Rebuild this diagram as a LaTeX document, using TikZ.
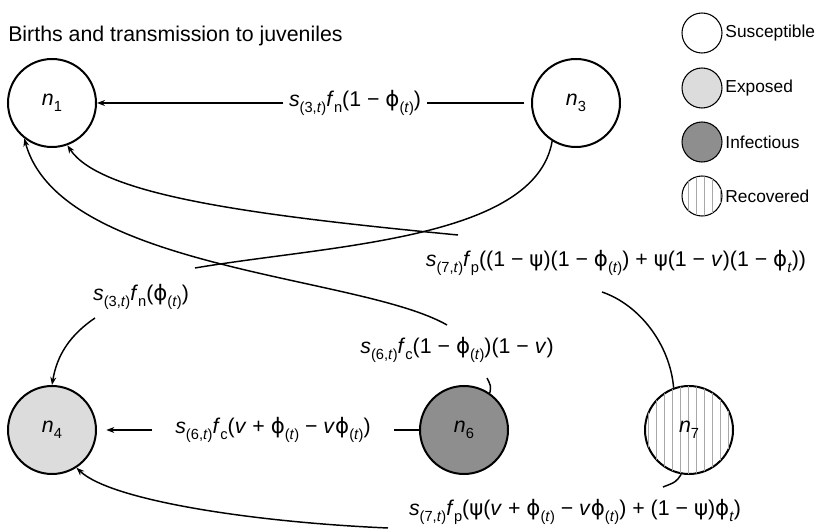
\documentclass[tikz,border=0pt]{standalone}
\usepackage{fontspec}
\setmainfont{Liberation Sans}
\newfontfamily\grk{DejaVu Sans}
\usetikzlibrary{arrows.meta, patterns.meta}
\definecolor{exposedgray}{HTML}{DCDCDC}
\definecolor{infectgray}{HTML}{8E8E8E}
\definecolor{hatchgray}{HTML}{A8A8A8}
\newcommand\lo[1]{\raisebox{-0.55ex}{\fontsize{11}{12}\selectfont #1}}
\newcommand\ph{{\grk ϕ}}
\newcommand\ps{{\grk ψ}}

\begin{document}
\begin{tikzpicture}[x=0.75pt, y=-0.75pt,
  state/.style={circle, draw=black, line width=1.5pt, minimum size=66pt, inner sep=0pt, font=\fontsize{16}{19}\selectfont},
  susc/.style={state, fill=white},
  expo/.style={state, fill=exposedgray},
  infc/.style={state, fill=infectgray},
  reco/.style={state, fill=white, postaction={pattern={Lines[angle=90, distance=6pt, line width=0.6pt]}, pattern color=hatchgray}},
  key/.style={circle, draw=black, line width=0.8pt, minimum size=30pt, inner sep=0pt},
  keytext/.style={anchor=west, font=\fontsize{13}{15}\selectfont, inner sep=2pt},
  rate/.style={font=\fontsize{16}{19}\selectfont, inner sep=4pt},
  link/.style={line width=1.1pt},
  arr/.style={link, -{Stealth[length=6pt, width=4.5pt]}},
]
\useasboundingbox (0,0) rectangle (820,530);

% --- title ---
\node[anchor=base west, inner sep=0pt, font=\fontsize{16}{19}\selectfont] (title) at (8,42) {Births and transmission to juveniles};

% --- legend ---
\node[key, fill=white] (ksus) at (702,33) {};
\node[keytext] (tsus) at (ksus.east) {Susceptible};
\node[key, fill=exposedgray] (kexp) at (702,88) {};
\node[keytext] (texp) at (kexp.east) {Exposed};
\node[key, fill=infectgray] (kinf) at (702,142) {};
\node[keytext] (tinf) at (kinf.east) {Infectious};
\node[key, fill=white, postaction={pattern={Lines[angle=90, distance=6pt, line width=0.6pt]}, pattern color=hatchgray}] (krec) at (702,196) {};
\node[keytext] (trec) at (krec.east) {Recovered};

% --- classes ---
\node[susc] (n1) at (52,103) {\textit{n}\lo{1}};
\node[susc] (n3) at (576,103) {\textit{n}\lo{3}};
\node[expo] (n4) at (52,430) {\textit{n}\lo{4}};
\node[infc] (n6) at (464,430) {\textit{n}\lo{6}};
\node[reco] (n7) at (689,430) {\textit{n}\lo{7}};

% --- rates ---
\node[rate] (l31) at (355,103) {\textit{s}\lo{(3,\textit{t})}\textit{f}\lo{n}(1 − \ph\lo{(\textit{t})})};
\node[rate] (l34) at (141,297) {\textit{s}\lo{(3,\textit{t})}\textit{f}\lo{n}(\ph\lo{(\textit{t})})};
\node[rate] (l71) at (616,263) {\textit{s}\lo{(7,\textit{t})}\textit{f}\lo{p}((1 − \ps)(1 − \ph\lo{(\textit{t})}) + \ps(1 − \textit{v})(1 − \ph\lo{\textit{t}}))};
\node[rate] (l61) at (457,350) {\textit{s}\lo{(6,\textit{t})}\textit{f}\lo{c}(1 − \ph\lo{(\textit{t})})(1 − \textit{v})};
\node[rate] (l64) at (273,430) {\textit{s}\lo{(6,\textit{t})}\textit{f}\lo{c}(\textit{v} + \ph\lo{(\textit{t})} − \textit{v}\ph\lo{(\textit{t})})};
\node[rate] (l74) at (575,512) {\textit{s}\lo{(7,\textit{t})}\textit{f}\lo{p}(\ps(\textit{v} + \ph\lo{(\textit{t})} − \textit{v}\ph\lo{(\textit{t})}) + (1 − \ps)\ph\lo{\textit{t}})};

% --- free ends beside the rates ---
\coordinate (c34a) at (195,268);
\coordinate (c34b) at (95,318);
\coordinate (c61a) at (487,378);
\coordinate (c61b) at (447,325);
\coordinate (c71a) at (602,292);
\coordinate (c71b) at (458,235);
\coordinate (c74a) at (663,487);
\coordinate (c74b) at (388,528);

% --- arrows ---
\draw[link, shorten <=5pt] (n3) -- (l31);
\draw[arr] (l31) -- (n1);
\draw[link] (n3.-122) .. controls (535,240) and (330,245) .. (c34a);
\draw[arr] (c34b) .. controls (70,335) and (57,355) .. (n4.north);
\draw[link] (n6.55) .. controls (491,386) .. (c61a);
\draw[arr] (c61b) .. controls (360,275) and (60,270) .. (n1.-128);
\draw[link] (n7.110) .. controls (670,345) and (640,305) .. (c71a);
\draw[arr] (c71b) .. controls (250,215) and (100,195) .. (n1.-70);
\draw[link] (n7.-100) .. controls (676,482) .. (c74a);
\draw[arr] (c74b) .. controls (250,522) and (110,500) .. (n4.-57);
\draw[link, shorten >=13pt] (n6) -- (l64);
\draw[arr, shorten <=13pt, shorten >=7pt] (l64) -- (n4);
\end{tikzpicture}
\end{document}
